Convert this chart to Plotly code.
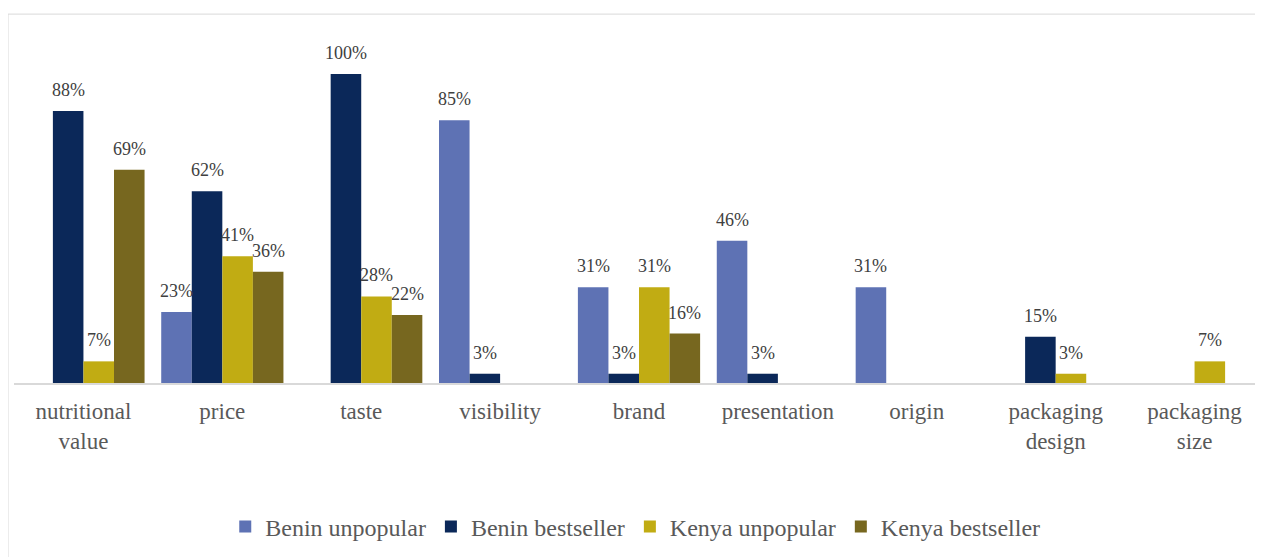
import plotly.graph_objects as go

categories = ["nutritional<br>value", "price", "taste", "visibility", "brand",
              "presentation", "origin", "packaging<br>design", "packaging<br>size"]
series_names = ["Benin unpopular", "Benin bestseller", "Kenya unpopular", "Kenya bestseller"]
benin_unpopular = [0, 23, 0, 85, 31, 46, 31, 0, 0]
benin_bestseller = [88, 62, 100, 3, 3, 3, 0, 15, 0]
kenya_unpopular = [7, 41, 28, 0, 31, 0, 0, 3, 7]
kenya_bestseller = [69, 36, 22, 0, 16, 0, 0, 0, 0]
colors = ["#5E72B4", "#0B2859", "#C1AC13", "#77671F"]

series_values = [benin_unpopular, benin_bestseller, kenya_unpopular, kenya_bestseller]

W, H = 1263, 557
ML, MR, MT, MB = 6, 7, 22, 182
BARGAP = 0.12
domain_w = W - ML - MR
cat_w = domain_w / len(categories)
bar_w = cat_w * (1 - BARGAP) / len(series_names)

fig = go.Figure()
annotations = []
for i, (name, vals, col) in enumerate(zip(series_names, series_values, colors)):
    fig.add_trace(go.Bar(
        x=categories, y=vals, name=name,
        marker=dict(color=col, line=dict(width=0)),
        hoverinfo="skip",
    ))
    off = (i - (len(series_names) - 1) / 2) * bar_w
    for c, v in zip(categories, vals):
        if v > 0:
            annotations.append(dict(
                x=c, y=v, xref="x", yref="y", text=f"{v}%", showarrow=False,
                xshift=off, yshift=9, yanchor="bottom", xanchor="center",
                font=dict(family="Liberation Serif", size=18, color="#404040"),
            ))

fig.update_layout(
    width=W, height=H,
    barmode="group", bargap=BARGAP, bargroupgap=0,
    paper_bgcolor="white", plot_bgcolor="white",
    margin=dict(l=ML, r=MR, t=MT, b=MB),
    font=dict(family="Liberation Serif", color="#595959"),
    xaxis=dict(showline=True, linecolor="#D9D9D9", linewidth=2, ticks="",
               ticklabelstandoff=6,
               tickfont=dict(size=23, color="#595959"), showgrid=False, fixedrange=True),
    yaxis=dict(visible=False, range=[0, 114.2], showgrid=False, fixedrange=True),
    legend=dict(orientation="h", x=0.497, xanchor="center", y=-0.408, yanchor="middle",
                font=dict(size=24, color="#595959"), itemwidth=30, traceorder="normal"),
    annotations=annotations,
    shapes=[dict(type="rect", xref="paper", yref="paper",
                 x0=-0.0048, x1=0.998, y0=-0.7, y1=1.045,
                 line=dict(color="#D9D9D9", width=1), fillcolor="rgba(0,0,0,0)", layer="below")],
    showlegend=True,
)

fig.write_html("out.html")
